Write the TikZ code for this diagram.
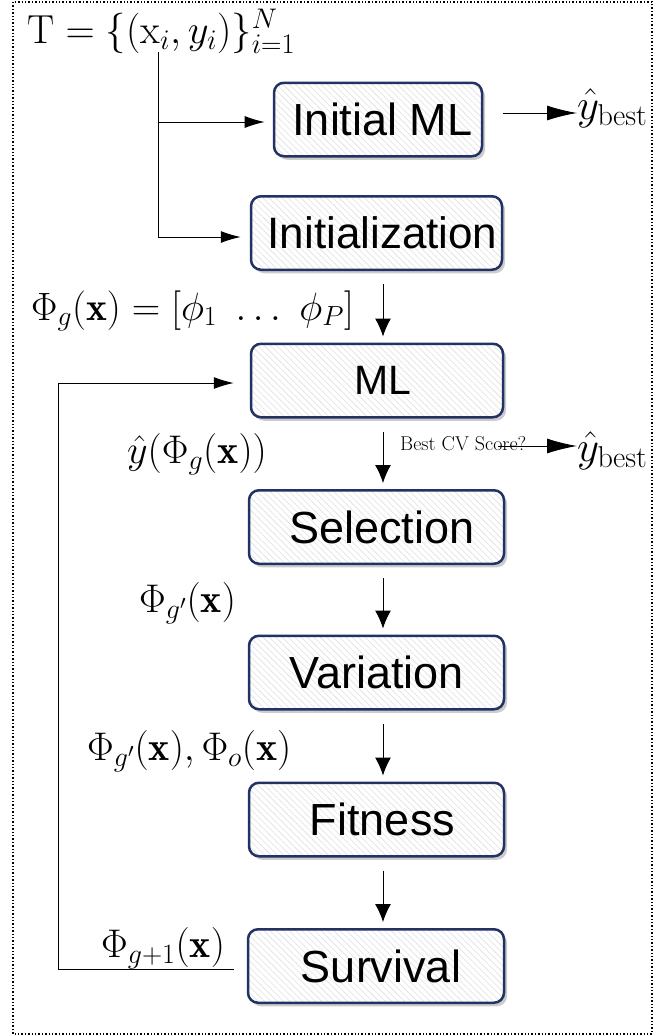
\documentclass[tikz,border=0pt]{standalone}
\usepackage{fix-cm}
\usepackage{fontspec}
\newfontfamily\boxfont{Liberation Sans}
\usetikzlibrary{arrows.meta,patterns.meta,shadows}
\definecolor{boxblue}{RGB}{35,50,100}
\tikzset{
  stage/.style={
    drop shadow={shadow xshift=3pt, shadow yshift=-3.5pt, fill=black!50, opacity=0.4},
    preaction={fill=white},
    draw=boxblue, line width=2.5pt, rounded corners=10pt,
    pattern={Lines[angle=-45,distance=4.5pt,line width=0.6pt]}, pattern color=black!12,
    font=\boxfont\fontsize{45}{50}\selectfont, inner sep=0pt,
    minimum height=73.5pt},
  mathlab/.style={font=\fontsize{40}{44}\selectfont, inner sep=0pt, anchor=base west},
  vconn/.style={line width=1pt, -{Latex[length=18pt,width=16pt]}, shorten <=13pt, shorten >=6pt},
  hconn/.style={line width=1pt, -{Latex[length=20pt,width=12pt]}},
  bestconn/.style={line width=1pt, -{Latex[length=30pt,width=15pt]}},
}
\begin{document}
\begin{tikzpicture}[x=1pt,y=-1pt]
\useasboundingbox (0,0) rectangle (670,1036);
\draw[dotted, line width=1.4pt] (13,2) rectangle (652,1034);

% boxes
\node[stage, minimum width=208pt] (iml) at (378,119.5) {\hspace*{9pt}Initial ML};
\node[stage, minimum width=251pt, font=\boxfont\fontsize{44}{48}\selectfont] (init) at (376.5,233) {\hspace*{12pt}Initialization};
\node[stage, minimum width=252pt, font=\boxfont\fontsize{41}{46}\selectfont] (ml) at (377,380.5) {\hspace*{11pt}ML};
\node[stage, minimum width=255pt] (sel) at (376.5,527) {\hspace*{11pt}Selection};
\node[stage, minimum width=255pt] (var) at (376.5,672.5) {Variation};
\node[stage, minimum width=255pt] (fit) at (376.5,819.5) {\hspace*{12pt}Fitness};
\node[stage, minimum width=256pt] (surv) at (376,966) {\hspace*{10pt}Survival};

% math labels
\node[mathlab, font=\fontsize{40.5}{44}\selectfont] (tlab) at (27,43) {$\mathrm{T}=\{(\mathrm{x}_i,y_i)\}_{i=1}^{N}$};
\node[mathlab, font=\fontsize{39.5}{44}\selectfont] (phig) at (31,320) {$\Phi_g(\mathbf{x})=[\phi_1\ \dots\ \phi_P]$};
\node[mathlab] (yhat) at (127,463) {$\hat{y}(\Phi_g(\mathbf{x}))$};
\node[mathlab] (phigp) at (139,612) {$\Phi_{g'}(\mathbf{x})$};
\node[mathlab] (phio) at (87,760) {$\Phi_{g'}(\mathbf{x}),\Phi_o(\mathbf{x})$};
\node[mathlab] (phinext) at (101,957) {$\Phi_{g+1}(\mathbf{x})$};
\node[mathlab, font=\fontsize{43}{46}\selectfont] (yb1) at (577,119) {$\hat{y}_{\mathrm{best}}$};
\node[mathlab, font=\fontsize{43}{46}\selectfont] (yb2) at (577,461) {$\hat{y}_{\mathrm{best}}$};
\node[inner sep=0pt, anchor=base west, font=\fontsize{20}{22}\selectfont] (cvlab) at (400,450) {Best CV Score?};

% coordinates
\coordinate (tx) at (158,52);
\coordinate (a1) at (503,113);
\coordinate (b2) at (498,446);
\coordinate (fbc) at (58,969);

% connectors
\draw[hconn, shorten >=9pt] (tx) |- ([yshift=-2.5pt]iml.west);
\draw[hconn, shorten >=9pt] (tx) |- ([yshift=-4pt]init.west);
\draw[bestconn] (a1) -- (yb1.west |- a1);
\draw[bestconn] (b2) -- (yb2.west |- b2);
\draw[vconn] ([xshift=6.5pt]init.south) -- ([xshift=6pt]ml.north);
\draw[vconn] ([xshift=6pt]ml.south) -- ([xshift=6.5pt]sel.north);
\draw[vconn] ([xshift=6.5pt]sel.south) -- ([xshift=6.5pt]var.north);
\draw[vconn] ([xshift=6.5pt]var.south) -- ([xshift=6.5pt]fit.north);
\draw[vconn] ([xshift=6.5pt]fit.south) -- ([xshift=7pt]surv.north);
\draw[hconn, shorten >=16pt] ([xshift=-13pt,yshift=-3pt]surv.west) -- (fbc) |- ([yshift=-2.5pt]ml.west);
\end{tikzpicture}
\end{document}
